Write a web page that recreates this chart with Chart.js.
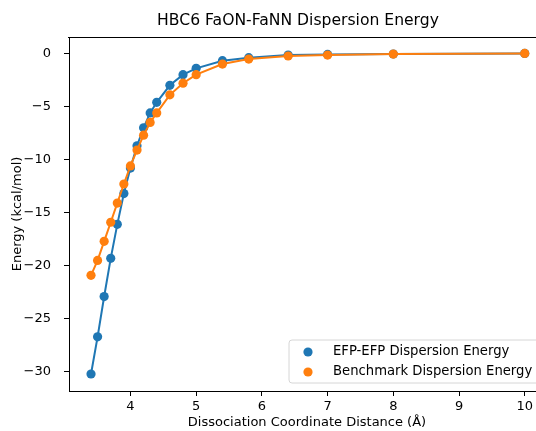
<!DOCTYPE html>
<html>
<head>
<meta charset="utf-8">
<script src="https://cdn.jsdelivr.net/npm/chart.js@4/dist/chart.umd.min.js"></script>
<style>
  html, body { margin: 0; padding: 0; background: #fff; overflow: hidden; }
  canvas { display: block; }
</style>
</head>
<body>
<canvas id="chart" width="536" height="431"></canvas>
<script>
// dissociation coordinate (Å)
const distances = [3.4, 3.5, 3.6, 3.7, 3.8, 3.9, 4.0, 4.1, 4.2, 4.3, 4.4, 4.6, 4.8, 5.0, 5.4, 5.8, 6.4, 7.0, 8.0, 10.0];
// energies (kcal/mol)
const efpEnergy = [-30.2, -26.7, -22.9, -19.3, -16.1, -13.2, -10.8, -8.7, -7.0, -5.6, -4.6, -3.0, -2.0, -1.4, -0.68, -0.40, -0.15, -0.09, -0.05, 0.0];
const benchmarkEnergy = [-20.9, -19.5, -17.7, -15.9, -14.1, -12.3, -10.6, -9.1, -7.7, -6.5, -5.6, -3.9, -2.8, -2.0, -1.0, -0.53, -0.24, -0.15, -0.06, 0.0];
const xTicks = [4, 5, 6, 7, 8, 9, 10];
const yTicks = [0, -5, -10, -15, -20, -25, -30];

const FONT = "'DejaVu Sans', sans-serif";
const BLUE = '#1f77b4';
const ORANGE = '#ff7f0e';

// title, axis labels, legend and top spine drawn like matplotlib
const decorations = {
    id: 'decorations',
    afterDraw(chart) {
        const ctx = chart.ctx;
        const area = chart.chartArea;
        ctx.save();

        // the original is cropped on the right, so only the top spine shows
        ctx.strokeStyle = '#000';
        ctx.lineWidth = 1;
        ctx.beginPath();
        ctx.moveTo(area.left - 1, area.top + 0.5);
        ctx.lineTo(chart.width, area.top + 0.5);
        ctx.stroke();

        ctx.fillStyle = '#000';
        ctx.font = `15.6px ${FONT}`;
        ctx.textAlign = 'center';
        ctx.textBaseline = 'middle';
        ctx.fillText('HBC6 FaON-FaNN Dispersion Energy', 298, 21);

        ctx.font = `13px ${FONT}`;
        ctx.fillText('Dissociation Coordinate Distance (Å)', 307, 423);

        ctx.save();
        ctx.translate(18, 214);
        ctx.rotate(-Math.PI / 2);
        ctx.fillText('Energy (kcal/mol)', 0, 0);
        ctx.restore();

        // legend box, running off the right edge
        const lx = 289, ly = 340, lw = 260, lh = 43, r = 3;
        ctx.beginPath();
        ctx.moveTo(lx + lw, ly);
        ctx.lineTo(lx + r, ly);
        ctx.arcTo(lx, ly, lx, ly + r, r);
        ctx.lineTo(lx, ly + lh - r);
        ctx.arcTo(lx, ly + lh, lx + r, ly + lh, r);
        ctx.lineTo(lx + lw, ly + lh);
        ctx.fillStyle = 'rgba(255,255,255,0.8)';
        ctx.fill();
        ctx.strokeStyle = '#d6d6d6';
        ctx.stroke();

        const entries = [['EFP-EFP Dispersion Energy', BLUE], ['Benchmark Dispersion Energy', ORANGE]];
        entries.forEach(([label, color], i) => {
            const y = 352 + i * 20;
            ctx.beginPath();
            ctx.arc(308, y, 4.6, 0, Math.PI * 2);
            ctx.fillStyle = color;
            ctx.fill();
            ctx.fillStyle = '#000';
            ctx.textAlign = 'left';
            ctx.font = `13.2px ${FONT}`;
            ctx.fillText(label, 333, y);
        });

        ctx.restore();
    }
};

new Chart(document.getElementById('chart'), {
    type: 'line',
    data: {
        datasets: [{
            label: 'EFP-EFP Dispersion Energy',
            data: distances.map((d, i) => ({ x: d, y: efpEnergy[i] })),
            borderColor: BLUE,
            backgroundColor: BLUE,
            pointBackgroundColor: BLUE,
            borderWidth: 2,
            pointRadius: 4.6,
            pointBorderWidth: 0,
            order: 2
        }, {
            label: 'Benchmark Dispersion Energy',
            data: distances.map((d, i) => ({ x: d, y: benchmarkEnergy[i] })),
            borderColor: ORANGE,
            backgroundColor: ORANGE,
            pointBackgroundColor: ORANGE,
            borderWidth: 2,
            pointRadius: 4.6,
            pointBorderWidth: 0,
            order: 1
        }]
    },
    options: {
        responsive: false,
        animation: false,
        layout: { autoPadding: false, padding: { top: 37, right: 0, left: 0, bottom: 0 } },
        scales: {
            x: {
                type: 'linear',
                min: 3.065,
                max: 10.17,
                afterBuildTicks: scale => { scale.ticks = xTicks.map(v => ({ value: v })); },
                afterFit: scale => { scale.height = 40; },
                grid: { drawOnChartArea: false, drawTicks: true, tickLength: 5, tickColor: '#000' },
                border: { display: true, color: '#000', width: 1 },
                ticks: { color: '#000', font: { family: FONT, size: 13 }, padding: 3, maxRotation: 0 }
            },
            y: {
                type: 'linear',
                min: -31.8,
                max: 1.55,
                afterBuildTicks: scale => { scale.ticks = yTicks.map(v => ({ value: v })); },
                afterFit: scale => { scale.width = 69; },
                grid: { drawOnChartArea: false, drawTicks: true, tickLength: 5, tickColor: '#000' },
                border: { display: true, color: '#000', width: 1 },
                ticks: {
                    color: '#000',
                    font: { family: FONT, size: 13 },
                    padding: 13,
                    callback: v => String(v).replace('-', '\u2212')
                }
            }
        },
        plugins: {
            legend: { display: false },
            title: { display: false },
            tooltip: { enabled: false }
        }
    },
    plugins: [decorations]
});
</script>
</body>
</html>
